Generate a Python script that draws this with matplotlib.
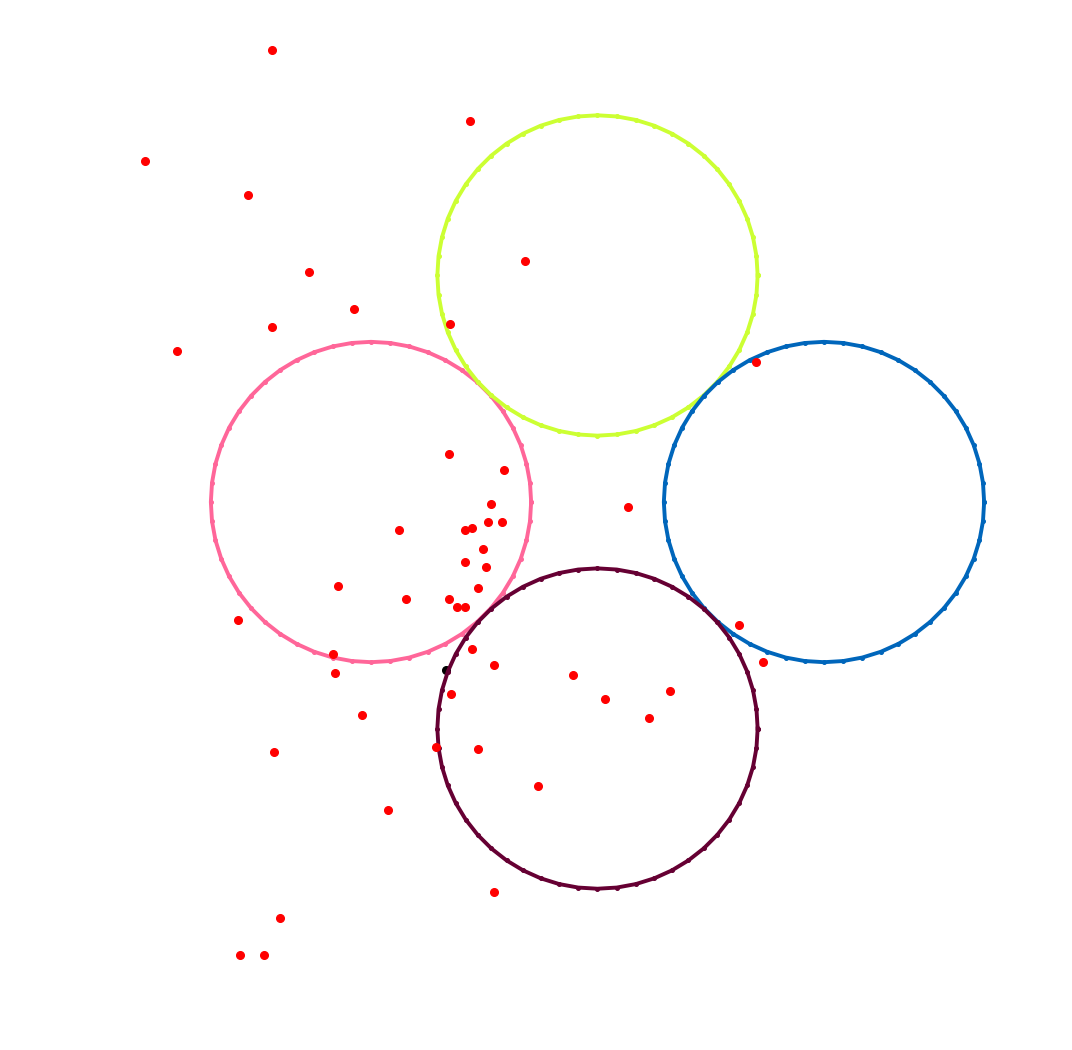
import numpy as np
import matplotlib
matplotlib.use("Agg")
import matplotlib.pyplot as plt

# circle centres and radius (data units)
circle_x = [-1.0, 0.0, 1.0, 0.0]
circle_y = [0.0, 1.0, 0.0, -1.0]
circle_r = 0.7071
circle_colors = ["#FF6699", "#CCFF33", "#0066BB", "#660033"]

# scattered red points
pts_x = [-1.436, -0.562, -1.996, -1.542, -0.319, -1.272, -1.074, -0.653, -1.436, -1.855,
         0.698, -0.654, -0.411, -0.470, 0.136, -0.584, -0.553, -0.482, -0.420, -0.876,
         -0.504, -0.584, -0.491, -1.144, -0.526, -0.844, -0.654, -0.619, -0.584, -1.586,
         0.626, -1.166, -0.553, 0.732, -0.456, -1.158, -0.107, 0.321, -0.645, 0.032,
         -1.038, 0.229, -0.714, -0.526, -1.427, -0.263, -0.924, -0.456, -1.400, -1.577,
         -1.471]
pts_y = [1.994, 1.681, 1.504, 1.354, 1.063, 1.014, 0.851, 0.785, 0.771, 0.665,
         0.619, 0.211, 0.140, -0.010, -0.023, -0.124, -0.116, -0.090, -0.090, -0.124,
         -0.209, -0.266, -0.288, -0.372, -0.381, -0.430, -0.430, -0.465, -0.465, -0.522,
         -0.544, -0.671, -0.650, -0.706, -0.721, -0.756, -0.765, -0.836, -0.849, -0.871,
         -0.942, -0.955, -1.082, -1.092, -1.105, -1.254, -1.361, -1.722, -1.838, -2.001,
         -2.001]

# single black point
black_x = [-0.671]
black_y = [-0.742]

fig = plt.figure(figsize=(10.72, 10.5), dpi=100)
ax = fig.add_axes([0, 0, 1, 1])

ax.plot(black_x, black_y, "o", color="black", markersize=5.5, zorder=1)

t = np.linspace(0, 2 * np.pi, 53)
for cx, cy, c in zip(circle_x, circle_y, circle_colors):
    ax.plot(cx + circle_r * np.cos(t), cy + circle_r * np.sin(t),
            "-o", color=c, linewidth=2.8, markersize=2.6, zorder=2)

ax.plot(pts_x, pts_y, "o", color="red", markersize=5.5, zorder=3)

ax.set_xlim(-2.638, 2.095)
ax.set_ylim(-2.419, 2.216)
ax.axis("off")

fig.savefig("out.png", dpi=100)
